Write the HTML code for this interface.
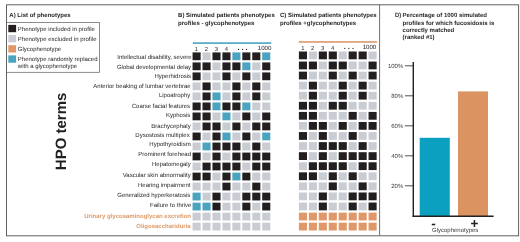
<!DOCTYPE html>
<html><head><meta charset="utf-8"><title>Figure</title>
<style>
html,body{margin:0;padding:0;background:#fff;}
body{width:520px;height:242px;overflow:hidden;}
svg{display:block;filter:blur(0.35px);text-rendering:geometricPrecision;font-family:"Liberation Sans",sans-serif;}
text{fill:#231f20;font-size:6px;}
.b{font-weight:bold;}
.n{font-size:5.8px;}
.tk{font-size:6px;fill:#3a3a3a;}
.dots{font-size:4.6px;letter-spacing:2.46px;}
.lab{font-size:6px;}
.o{font-weight:bold;fill:#e09b68;}
.hpo{font-size:15px;font-weight:bold;}
.pm{font-size:13.5px;font-weight:bold;}
</style></head><body>
<svg width="520" height="242" viewBox="0 0 520 242">
<rect x="0" y="0" width="520" height="242" fill="#fff"/>
<rect x="6.5" y="4.8" width="512.1" height="231.0" fill="none" stroke="#5a5a5a" stroke-width="0.95"/>
<line x1="379.6" x2="379.6" y1="4.6" y2="235.6" stroke="#555" stroke-width="0.85"/>
<!-- legend -->
<rect x="6.5" y="22.4" width="92.9" height="49.9" fill="none" stroke="#666" stroke-width="0.75"/>
<text x="9.3" y="17.3" class="b">A) List of phenotypes</text>
<rect x="8.3" y="24.9" width="7.8" height="7.3" fill="#231f20"/>
<rect x="8.3" y="35.0" width="7.8" height="7.3" fill="#c9cdd3"/>
<rect x="8.3" y="45.2" width="7.8" height="7.3" fill="#e0986a"/>
<rect x="8.3" y="55.4" width="7.8" height="7.3" fill="#4aa3bf"/>
<text x="17.8" y="30.6">Phenotype included in profile</text>
<text x="17.8" y="40.6">Phenotype excluded in profile</text>
<text x="17.8" y="50.7">Glycophenotype</text>
<text x="17.8" y="60.9">Phenotype randomly replaced</text>
<text x="17.8" y="68.2">with a glycophenotype</text>
<text transform="translate(66.3 170.2) rotate(-90)" class="hpo">HPO terms</text>
<!-- B -->
<text x="178.1" y="17.3" class="b">B) Simulated patients phenotypes</text>
<text x="178.1" y="24.6" class="b">profiles - glycophenotypes</text>
<rect x="192.8" y="42.3" width="78.5" height="1.6" fill="#4aa3bf"/>
<text x="196.40" y="50.90" text-anchor="middle" class="n">1</text>
<text x="206.35" y="50.90" text-anchor="middle" class="n">2</text>
<text x="216.30" y="50.90" text-anchor="middle" class="n">3</text>
<text x="226.25" y="50.90" text-anchor="middle" class="n">4</text>
<text x="271.40" y="49.80" text-anchor="end" class="n" style="font-size:6.1px">1000</text>
<text x="237.70" y="50.90" class="dots">•••</text>
<rect x="192.55" y="52.40" width="8.1" height="7.8" fill="#231f20"/>
<rect x="202.50" y="52.40" width="8.1" height="7.8" fill="#c9cdd3"/>
<rect x="212.45" y="52.40" width="8.1" height="7.8" fill="#231f20"/>
<rect x="222.40" y="52.40" width="8.1" height="7.8" fill="#231f20"/>
<rect x="232.35" y="52.40" width="8.1" height="7.8" fill="#4aa3bf"/>
<rect x="242.30" y="52.40" width="8.1" height="7.8" fill="#231f20"/>
<rect x="252.25" y="52.40" width="8.1" height="7.8" fill="#231f20"/>
<rect x="262.20" y="52.40" width="8.1" height="7.8" fill="#4aa3bf"/>
<rect x="192.55" y="62.42" width="8.1" height="7.8" fill="#231f20"/>
<rect x="202.50" y="62.42" width="8.1" height="7.8" fill="#231f20"/>
<rect x="212.45" y="62.42" width="8.1" height="7.8" fill="#c9cdd3"/>
<rect x="222.40" y="62.42" width="8.1" height="7.8" fill="#231f20"/>
<rect x="232.35" y="62.42" width="8.1" height="7.8" fill="#231f20"/>
<rect x="242.30" y="62.42" width="8.1" height="7.8" fill="#4aa3bf"/>
<rect x="252.25" y="62.42" width="8.1" height="7.8" fill="#c9cdd3"/>
<rect x="262.20" y="62.42" width="8.1" height="7.8" fill="#231f20"/>
<rect x="192.55" y="72.44" width="8.1" height="7.8" fill="#231f20"/>
<rect x="202.50" y="72.44" width="8.1" height="7.8" fill="#c9cdd3"/>
<rect x="212.45" y="72.44" width="8.1" height="7.8" fill="#c9cdd3"/>
<rect x="222.40" y="72.44" width="8.1" height="7.8" fill="#231f20"/>
<rect x="232.35" y="72.44" width="8.1" height="7.8" fill="#c9cdd3"/>
<rect x="242.30" y="72.44" width="8.1" height="7.8" fill="#231f20"/>
<rect x="252.25" y="72.44" width="8.1" height="7.8" fill="#c9cdd3"/>
<rect x="262.20" y="72.44" width="8.1" height="7.8" fill="#231f20"/>
<rect x="192.55" y="82.45" width="8.1" height="7.8" fill="#c9cdd3"/>
<rect x="202.50" y="82.45" width="8.1" height="7.8" fill="#231f20"/>
<rect x="212.45" y="82.45" width="8.1" height="7.8" fill="#c9cdd3"/>
<rect x="222.40" y="82.45" width="8.1" height="7.8" fill="#c9cdd3"/>
<rect x="232.35" y="82.45" width="8.1" height="7.8" fill="#231f20"/>
<rect x="242.30" y="82.45" width="8.1" height="7.8" fill="#c9cdd3"/>
<rect x="252.25" y="82.45" width="8.1" height="7.8" fill="#231f20"/>
<rect x="262.20" y="82.45" width="8.1" height="7.8" fill="#c9cdd3"/>
<rect x="192.55" y="92.47" width="8.1" height="7.8" fill="#c9cdd3"/>
<rect x="202.50" y="92.47" width="8.1" height="7.8" fill="#231f20"/>
<rect x="212.45" y="92.47" width="8.1" height="7.8" fill="#4aa3bf"/>
<rect x="222.40" y="92.47" width="8.1" height="7.8" fill="#c9cdd3"/>
<rect x="232.35" y="92.47" width="8.1" height="7.8" fill="#231f20"/>
<rect x="242.30" y="92.47" width="8.1" height="7.8" fill="#c9cdd3"/>
<rect x="252.25" y="92.47" width="8.1" height="7.8" fill="#231f20"/>
<rect x="262.20" y="92.47" width="8.1" height="7.8" fill="#c9cdd3"/>
<rect x="192.55" y="102.49" width="8.1" height="7.8" fill="#231f20"/>
<rect x="202.50" y="102.49" width="8.1" height="7.8" fill="#231f20"/>
<rect x="212.45" y="102.49" width="8.1" height="7.8" fill="#4aa3bf"/>
<rect x="222.40" y="102.49" width="8.1" height="7.8" fill="#231f20"/>
<rect x="232.35" y="102.49" width="8.1" height="7.8" fill="#231f20"/>
<rect x="242.30" y="102.49" width="8.1" height="7.8" fill="#4aa3bf"/>
<rect x="252.25" y="102.49" width="8.1" height="7.8" fill="#c9cdd3"/>
<rect x="262.20" y="102.49" width="8.1" height="7.8" fill="#c9cdd3"/>
<rect x="192.55" y="112.51" width="8.1" height="7.8" fill="#231f20"/>
<rect x="202.50" y="112.51" width="8.1" height="7.8" fill="#231f20"/>
<rect x="212.45" y="112.51" width="8.1" height="7.8" fill="#c9cdd3"/>
<rect x="222.40" y="112.51" width="8.1" height="7.8" fill="#4aa3bf"/>
<rect x="232.35" y="112.51" width="8.1" height="7.8" fill="#c9cdd3"/>
<rect x="242.30" y="112.51" width="8.1" height="7.8" fill="#231f20"/>
<rect x="252.25" y="112.51" width="8.1" height="7.8" fill="#c9cdd3"/>
<rect x="262.20" y="112.51" width="8.1" height="7.8" fill="#231f20"/>
<rect x="192.55" y="122.53" width="8.1" height="7.8" fill="#c9cdd3"/>
<rect x="202.50" y="122.53" width="8.1" height="7.8" fill="#231f20"/>
<rect x="212.45" y="122.53" width="8.1" height="7.8" fill="#231f20"/>
<rect x="222.40" y="122.53" width="8.1" height="7.8" fill="#c9cdd3"/>
<rect x="232.35" y="122.53" width="8.1" height="7.8" fill="#231f20"/>
<rect x="242.30" y="122.53" width="8.1" height="7.8" fill="#c9cdd3"/>
<rect x="252.25" y="122.53" width="8.1" height="7.8" fill="#231f20"/>
<rect x="262.20" y="122.53" width="8.1" height="7.8" fill="#231f20"/>
<rect x="192.55" y="132.54" width="8.1" height="7.8" fill="#231f20"/>
<rect x="202.50" y="132.54" width="8.1" height="7.8" fill="#c9cdd3"/>
<rect x="212.45" y="132.54" width="8.1" height="7.8" fill="#231f20"/>
<rect x="222.40" y="132.54" width="8.1" height="7.8" fill="#4aa3bf"/>
<rect x="232.35" y="132.54" width="8.1" height="7.8" fill="#c9cdd3"/>
<rect x="242.30" y="132.54" width="8.1" height="7.8" fill="#231f20"/>
<rect x="252.25" y="132.54" width="8.1" height="7.8" fill="#c9cdd3"/>
<rect x="262.20" y="132.54" width="8.1" height="7.8" fill="#4aa3bf"/>
<rect x="192.55" y="142.56" width="8.1" height="7.8" fill="#c9cdd3"/>
<rect x="202.50" y="142.56" width="8.1" height="7.8" fill="#4aa3bf"/>
<rect x="212.45" y="142.56" width="8.1" height="7.8" fill="#231f20"/>
<rect x="222.40" y="142.56" width="8.1" height="7.8" fill="#231f20"/>
<rect x="232.35" y="142.56" width="8.1" height="7.8" fill="#231f20"/>
<rect x="242.30" y="142.56" width="8.1" height="7.8" fill="#c9cdd3"/>
<rect x="252.25" y="142.56" width="8.1" height="7.8" fill="#231f20"/>
<rect x="262.20" y="142.56" width="8.1" height="7.8" fill="#c9cdd3"/>
<rect x="192.55" y="152.58" width="8.1" height="7.8" fill="#231f20"/>
<rect x="202.50" y="152.58" width="8.1" height="7.8" fill="#c9cdd3"/>
<rect x="212.45" y="152.58" width="8.1" height="7.8" fill="#231f20"/>
<rect x="222.40" y="152.58" width="8.1" height="7.8" fill="#c9cdd3"/>
<rect x="232.35" y="152.58" width="8.1" height="7.8" fill="#231f20"/>
<rect x="242.30" y="152.58" width="8.1" height="7.8" fill="#231f20"/>
<rect x="252.25" y="152.58" width="8.1" height="7.8" fill="#231f20"/>
<rect x="262.20" y="152.58" width="8.1" height="7.8" fill="#231f20"/>
<rect x="192.55" y="162.60" width="8.1" height="7.8" fill="#c9cdd3"/>
<rect x="202.50" y="162.60" width="8.1" height="7.8" fill="#231f20"/>
<rect x="212.45" y="162.60" width="8.1" height="7.8" fill="#231f20"/>
<rect x="222.40" y="162.60" width="8.1" height="7.8" fill="#231f20"/>
<rect x="232.35" y="162.60" width="8.1" height="7.8" fill="#231f20"/>
<rect x="242.30" y="162.60" width="8.1" height="7.8" fill="#c9cdd3"/>
<rect x="252.25" y="162.60" width="8.1" height="7.8" fill="#231f20"/>
<rect x="262.20" y="162.60" width="8.1" height="7.8" fill="#231f20"/>
<rect x="192.55" y="172.62" width="8.1" height="7.8" fill="#231f20"/>
<rect x="202.50" y="172.62" width="8.1" height="7.8" fill="#231f20"/>
<rect x="212.45" y="172.62" width="8.1" height="7.8" fill="#c9cdd3"/>
<rect x="222.40" y="172.62" width="8.1" height="7.8" fill="#231f20"/>
<rect x="232.35" y="172.62" width="8.1" height="7.8" fill="#4aa3bf"/>
<rect x="242.30" y="172.62" width="8.1" height="7.8" fill="#231f20"/>
<rect x="252.25" y="172.62" width="8.1" height="7.8" fill="#c9cdd3"/>
<rect x="262.20" y="172.62" width="8.1" height="7.8" fill="#c9cdd3"/>
<rect x="192.55" y="182.63" width="8.1" height="7.8" fill="#c9cdd3"/>
<rect x="202.50" y="182.63" width="8.1" height="7.8" fill="#c9cdd3"/>
<rect x="212.45" y="182.63" width="8.1" height="7.8" fill="#c9cdd3"/>
<rect x="222.40" y="182.63" width="8.1" height="7.8" fill="#231f20"/>
<rect x="232.35" y="182.63" width="8.1" height="7.8" fill="#c9cdd3"/>
<rect x="242.30" y="182.63" width="8.1" height="7.8" fill="#c9cdd3"/>
<rect x="252.25" y="182.63" width="8.1" height="7.8" fill="#231f20"/>
<rect x="262.20" y="182.63" width="8.1" height="7.8" fill="#c9cdd3"/>
<rect x="192.55" y="192.65" width="8.1" height="7.8" fill="#4aa3bf"/>
<rect x="202.50" y="192.65" width="8.1" height="7.8" fill="#c9cdd3"/>
<rect x="212.45" y="192.65" width="8.1" height="7.8" fill="#231f20"/>
<rect x="222.40" y="192.65" width="8.1" height="7.8" fill="#c9cdd3"/>
<rect x="232.35" y="192.65" width="8.1" height="7.8" fill="#c9cdd3"/>
<rect x="242.30" y="192.65" width="8.1" height="7.8" fill="#231f20"/>
<rect x="252.25" y="192.65" width="8.1" height="7.8" fill="#231f20"/>
<rect x="262.20" y="192.65" width="8.1" height="7.8" fill="#231f20"/>
<rect x="192.55" y="202.67" width="8.1" height="7.8" fill="#4aa3bf"/>
<rect x="202.50" y="202.67" width="8.1" height="7.8" fill="#4aa3bf"/>
<rect x="212.45" y="202.67" width="8.1" height="7.8" fill="#231f20"/>
<rect x="222.40" y="202.67" width="8.1" height="7.8" fill="#c9cdd3"/>
<rect x="232.35" y="202.67" width="8.1" height="7.8" fill="#c9cdd3"/>
<rect x="242.30" y="202.67" width="8.1" height="7.8" fill="#231f20"/>
<rect x="252.25" y="202.67" width="8.1" height="7.8" fill="#c9cdd3"/>
<rect x="262.20" y="202.67" width="8.1" height="7.8" fill="#231f20"/>
<rect x="192.55" y="212.69" width="8.1" height="7.8" fill="#c9cdd3"/>
<rect x="202.50" y="212.69" width="8.1" height="7.8" fill="#c9cdd3"/>
<rect x="212.45" y="212.69" width="8.1" height="7.8" fill="#c9cdd3"/>
<rect x="222.40" y="212.69" width="8.1" height="7.8" fill="#c9cdd3"/>
<rect x="232.35" y="212.69" width="8.1" height="7.8" fill="#c9cdd3"/>
<rect x="242.30" y="212.69" width="8.1" height="7.8" fill="#c9cdd3"/>
<rect x="252.25" y="212.69" width="8.1" height="7.8" fill="#c9cdd3"/>
<rect x="262.20" y="212.69" width="8.1" height="7.8" fill="#c9cdd3"/>
<rect x="192.55" y="222.71" width="8.1" height="7.8" fill="#c9cdd3"/>
<rect x="202.50" y="222.71" width="8.1" height="7.8" fill="#c9cdd3"/>
<rect x="212.45" y="222.71" width="8.1" height="7.8" fill="#c9cdd3"/>
<rect x="222.40" y="222.71" width="8.1" height="7.8" fill="#c9cdd3"/>
<rect x="232.35" y="222.71" width="8.1" height="7.8" fill="#c9cdd3"/>
<rect x="242.30" y="222.71" width="8.1" height="7.8" fill="#c9cdd3"/>
<rect x="252.25" y="222.71" width="8.1" height="7.8" fill="#c9cdd3"/>
<rect x="262.20" y="222.71" width="8.1" height="7.8" fill="#c9cdd3"/>
<text x="191.6" y="58.80" text-anchor="end" class="lab">Intellectual disability, severe</text>
<text x="191.0" y="69.10" text-anchor="end" class="lab">Global developmental delay</text>
<text x="191.1" y="78.00" text-anchor="end" class="lab">Hyperhidrosis</text>
<text x="190.7" y="87.60" text-anchor="end" class="lab">Anterior beaking of lumbar vertebrae</text>
<text x="190.3" y="97.00" text-anchor="end" class="lab">Lipoatrophy</text>
<text x="190.1" y="108.00" text-anchor="end" class="lab">Coarse facial features</text>
<text x="190.3" y="117.30" text-anchor="end" class="lab">Kyphosis</text>
<text x="190.7" y="127.70" text-anchor="end" class="lab">Brachycephaly</text>
<text x="189.7" y="136.80" text-anchor="end" class="lab">Dysostosis multiplex</text>
<text x="190.7" y="146.30" text-anchor="end" class="lab">Hypothyroidism</text>
<text x="191.0" y="156.30" text-anchor="end" class="lab">Prominent forehead</text>
<text x="190.7" y="166.40" text-anchor="end" class="lab">Hepatomegaly</text>
<text x="190.7" y="177.40" text-anchor="end" class="lab">Vascular skin abnormality</text>
<text x="190.4" y="186.70" text-anchor="end" class="lab">Hearing impairment</text>
<text x="190.3" y="197.00" text-anchor="end" class="lab">Generalized hyperkeratosis</text>
<text x="191.4" y="207.00" text-anchor="end" class="lab">Failure to thrive</text>
<text x="191.0" y="218.30" text-anchor="end" class="lab o">Urinary glycosaminoglycan excretion</text>
<text x="190.7" y="228.30" text-anchor="end" class="lab o">Oligosacchariduria</text>
<!-- C -->
<text x="280.0" y="17.3" class="b">C) Simulated patients phenotypes</text>
<text x="280.0" y="24.6" class="b">profiles +glycophenotypes</text>
<rect x="298.7" y="41.15" width="78.3" height="1.6" fill="#d99a6c"/>
<text x="302.75" y="49.80" text-anchor="middle" class="n">1</text>
<text x="312.70" y="49.80" text-anchor="middle" class="n">2</text>
<text x="322.65" y="49.80" text-anchor="middle" class="n">3</text>
<text x="332.60" y="49.80" text-anchor="middle" class="n">4</text>
<text x="376.25" y="48.70" text-anchor="end" class="n" style="font-size:6.1px">1000</text>
<text x="344.05" y="49.80" class="dots">•••</text>
<rect x="298.90" y="51.50" width="8.1" height="7.8" fill="#231f20"/>
<rect x="308.85" y="51.50" width="8.1" height="7.8" fill="#c9cdd3"/>
<rect x="318.80" y="51.50" width="8.1" height="7.8" fill="#231f20"/>
<rect x="328.75" y="51.50" width="8.1" height="7.8" fill="#231f20"/>
<rect x="338.70" y="51.50" width="8.1" height="7.8" fill="#c9cdd3"/>
<rect x="348.65" y="51.50" width="8.1" height="7.8" fill="#231f20"/>
<rect x="358.60" y="51.50" width="8.1" height="7.8" fill="#231f20"/>
<rect x="368.55" y="51.50" width="8.1" height="7.8" fill="#c9cdd3"/>
<rect x="298.90" y="61.57" width="8.1" height="7.8" fill="#231f20"/>
<rect x="308.85" y="61.57" width="8.1" height="7.8" fill="#231f20"/>
<rect x="318.80" y="61.57" width="8.1" height="7.8" fill="#c9cdd3"/>
<rect x="328.75" y="61.57" width="8.1" height="7.8" fill="#231f20"/>
<rect x="338.70" y="61.57" width="8.1" height="7.8" fill="#231f20"/>
<rect x="348.65" y="61.57" width="8.1" height="7.8" fill="#c9cdd3"/>
<rect x="358.60" y="61.57" width="8.1" height="7.8" fill="#c9cdd3"/>
<rect x="368.55" y="61.57" width="8.1" height="7.8" fill="#231f20"/>
<rect x="298.90" y="71.64" width="8.1" height="7.8" fill="#231f20"/>
<rect x="308.85" y="71.64" width="8.1" height="7.8" fill="#c9cdd3"/>
<rect x="318.80" y="71.64" width="8.1" height="7.8" fill="#c9cdd3"/>
<rect x="328.75" y="71.64" width="8.1" height="7.8" fill="#231f20"/>
<rect x="338.70" y="71.64" width="8.1" height="7.8" fill="#c9cdd3"/>
<rect x="348.65" y="71.64" width="8.1" height="7.8" fill="#231f20"/>
<rect x="358.60" y="71.64" width="8.1" height="7.8" fill="#c9cdd3"/>
<rect x="368.55" y="71.64" width="8.1" height="7.8" fill="#231f20"/>
<rect x="298.90" y="81.71" width="8.1" height="7.8" fill="#c9cdd3"/>
<rect x="308.85" y="81.71" width="8.1" height="7.8" fill="#231f20"/>
<rect x="318.80" y="81.71" width="8.1" height="7.8" fill="#c9cdd3"/>
<rect x="328.75" y="81.71" width="8.1" height="7.8" fill="#c9cdd3"/>
<rect x="338.70" y="81.71" width="8.1" height="7.8" fill="#231f20"/>
<rect x="348.65" y="81.71" width="8.1" height="7.8" fill="#c9cdd3"/>
<rect x="358.60" y="81.71" width="8.1" height="7.8" fill="#231f20"/>
<rect x="368.55" y="81.71" width="8.1" height="7.8" fill="#c9cdd3"/>
<rect x="298.90" y="91.78" width="8.1" height="7.8" fill="#c9cdd3"/>
<rect x="308.85" y="91.78" width="8.1" height="7.8" fill="#231f20"/>
<rect x="318.80" y="91.78" width="8.1" height="7.8" fill="#c9cdd3"/>
<rect x="328.75" y="91.78" width="8.1" height="7.8" fill="#c9cdd3"/>
<rect x="338.70" y="91.78" width="8.1" height="7.8" fill="#231f20"/>
<rect x="348.65" y="91.78" width="8.1" height="7.8" fill="#c9cdd3"/>
<rect x="358.60" y="91.78" width="8.1" height="7.8" fill="#231f20"/>
<rect x="368.55" y="91.78" width="8.1" height="7.8" fill="#c9cdd3"/>
<rect x="298.90" y="101.85" width="8.1" height="7.8" fill="#231f20"/>
<rect x="308.85" y="101.85" width="8.1" height="7.8" fill="#231f20"/>
<rect x="318.80" y="101.85" width="8.1" height="7.8" fill="#c9cdd3"/>
<rect x="328.75" y="101.85" width="8.1" height="7.8" fill="#231f20"/>
<rect x="338.70" y="101.85" width="8.1" height="7.8" fill="#231f20"/>
<rect x="348.65" y="101.85" width="8.1" height="7.8" fill="#c9cdd3"/>
<rect x="358.60" y="101.85" width="8.1" height="7.8" fill="#c9cdd3"/>
<rect x="368.55" y="101.85" width="8.1" height="7.8" fill="#c9cdd3"/>
<rect x="298.90" y="111.92" width="8.1" height="7.8" fill="#231f20"/>
<rect x="308.85" y="111.92" width="8.1" height="7.8" fill="#231f20"/>
<rect x="318.80" y="111.92" width="8.1" height="7.8" fill="#c9cdd3"/>
<rect x="328.75" y="111.92" width="8.1" height="7.8" fill="#c9cdd3"/>
<rect x="338.70" y="111.92" width="8.1" height="7.8" fill="#c9cdd3"/>
<rect x="348.65" y="111.92" width="8.1" height="7.8" fill="#231f20"/>
<rect x="358.60" y="111.92" width="8.1" height="7.8" fill="#c9cdd3"/>
<rect x="368.55" y="111.92" width="8.1" height="7.8" fill="#231f20"/>
<rect x="298.90" y="121.99" width="8.1" height="7.8" fill="#c9cdd3"/>
<rect x="308.85" y="121.99" width="8.1" height="7.8" fill="#231f20"/>
<rect x="318.80" y="121.99" width="8.1" height="7.8" fill="#231f20"/>
<rect x="328.75" y="121.99" width="8.1" height="7.8" fill="#c9cdd3"/>
<rect x="338.70" y="121.99" width="8.1" height="7.8" fill="#231f20"/>
<rect x="348.65" y="121.99" width="8.1" height="7.8" fill="#c9cdd3"/>
<rect x="358.60" y="121.99" width="8.1" height="7.8" fill="#231f20"/>
<rect x="368.55" y="121.99" width="8.1" height="7.8" fill="#231f20"/>
<rect x="298.90" y="132.06" width="8.1" height="7.8" fill="#231f20"/>
<rect x="308.85" y="132.06" width="8.1" height="7.8" fill="#c9cdd3"/>
<rect x="318.80" y="132.06" width="8.1" height="7.8" fill="#231f20"/>
<rect x="328.75" y="132.06" width="8.1" height="7.8" fill="#c9cdd3"/>
<rect x="338.70" y="132.06" width="8.1" height="7.8" fill="#c9cdd3"/>
<rect x="348.65" y="132.06" width="8.1" height="7.8" fill="#231f20"/>
<rect x="358.60" y="132.06" width="8.1" height="7.8" fill="#c9cdd3"/>
<rect x="368.55" y="132.06" width="8.1" height="7.8" fill="#c9cdd3"/>
<rect x="298.90" y="142.13" width="8.1" height="7.8" fill="#c9cdd3"/>
<rect x="308.85" y="142.13" width="8.1" height="7.8" fill="#c9cdd3"/>
<rect x="318.80" y="142.13" width="8.1" height="7.8" fill="#231f20"/>
<rect x="328.75" y="142.13" width="8.1" height="7.8" fill="#231f20"/>
<rect x="338.70" y="142.13" width="8.1" height="7.8" fill="#231f20"/>
<rect x="348.65" y="142.13" width="8.1" height="7.8" fill="#c9cdd3"/>
<rect x="358.60" y="142.13" width="8.1" height="7.8" fill="#231f20"/>
<rect x="368.55" y="142.13" width="8.1" height="7.8" fill="#c9cdd3"/>
<rect x="298.90" y="152.20" width="8.1" height="7.8" fill="#231f20"/>
<rect x="308.85" y="152.20" width="8.1" height="7.8" fill="#c9cdd3"/>
<rect x="318.80" y="152.20" width="8.1" height="7.8" fill="#231f20"/>
<rect x="328.75" y="152.20" width="8.1" height="7.8" fill="#c9cdd3"/>
<rect x="338.70" y="152.20" width="8.1" height="7.8" fill="#231f20"/>
<rect x="348.65" y="152.20" width="8.1" height="7.8" fill="#231f20"/>
<rect x="358.60" y="152.20" width="8.1" height="7.8" fill="#231f20"/>
<rect x="368.55" y="152.20" width="8.1" height="7.8" fill="#231f20"/>
<rect x="298.90" y="162.27" width="8.1" height="7.8" fill="#c9cdd3"/>
<rect x="308.85" y="162.27" width="8.1" height="7.8" fill="#231f20"/>
<rect x="318.80" y="162.27" width="8.1" height="7.8" fill="#231f20"/>
<rect x="328.75" y="162.27" width="8.1" height="7.8" fill="#231f20"/>
<rect x="338.70" y="162.27" width="8.1" height="7.8" fill="#231f20"/>
<rect x="348.65" y="162.27" width="8.1" height="7.8" fill="#c9cdd3"/>
<rect x="358.60" y="162.27" width="8.1" height="7.8" fill="#231f20"/>
<rect x="368.55" y="162.27" width="8.1" height="7.8" fill="#231f20"/>
<rect x="298.90" y="172.34" width="8.1" height="7.8" fill="#231f20"/>
<rect x="308.85" y="172.34" width="8.1" height="7.8" fill="#231f20"/>
<rect x="318.80" y="172.34" width="8.1" height="7.8" fill="#c9cdd3"/>
<rect x="328.75" y="172.34" width="8.1" height="7.8" fill="#231f20"/>
<rect x="338.70" y="172.34" width="8.1" height="7.8" fill="#c9cdd3"/>
<rect x="348.65" y="172.34" width="8.1" height="7.8" fill="#231f20"/>
<rect x="358.60" y="172.34" width="8.1" height="7.8" fill="#c9cdd3"/>
<rect x="368.55" y="172.34" width="8.1" height="7.8" fill="#c9cdd3"/>
<rect x="298.90" y="182.41" width="8.1" height="7.8" fill="#c9cdd3"/>
<rect x="308.85" y="182.41" width="8.1" height="7.8" fill="#c9cdd3"/>
<rect x="318.80" y="182.41" width="8.1" height="7.8" fill="#c9cdd3"/>
<rect x="328.75" y="182.41" width="8.1" height="7.8" fill="#231f20"/>
<rect x="338.70" y="182.41" width="8.1" height="7.8" fill="#c9cdd3"/>
<rect x="348.65" y="182.41" width="8.1" height="7.8" fill="#c9cdd3"/>
<rect x="358.60" y="182.41" width="8.1" height="7.8" fill="#231f20"/>
<rect x="368.55" y="182.41" width="8.1" height="7.8" fill="#c9cdd3"/>
<rect x="298.90" y="192.48" width="8.1" height="7.8" fill="#c9cdd3"/>
<rect x="308.85" y="192.48" width="8.1" height="7.8" fill="#c9cdd3"/>
<rect x="318.80" y="192.48" width="8.1" height="7.8" fill="#231f20"/>
<rect x="328.75" y="192.48" width="8.1" height="7.8" fill="#c9cdd3"/>
<rect x="338.70" y="192.48" width="8.1" height="7.8" fill="#c9cdd3"/>
<rect x="348.65" y="192.48" width="8.1" height="7.8" fill="#231f20"/>
<rect x="358.60" y="192.48" width="8.1" height="7.8" fill="#231f20"/>
<rect x="368.55" y="192.48" width="8.1" height="7.8" fill="#231f20"/>
<rect x="298.90" y="202.55" width="8.1" height="7.8" fill="#c9cdd3"/>
<rect x="308.85" y="202.55" width="8.1" height="7.8" fill="#c9cdd3"/>
<rect x="318.80" y="202.55" width="8.1" height="7.8" fill="#231f20"/>
<rect x="328.75" y="202.55" width="8.1" height="7.8" fill="#c9cdd3"/>
<rect x="338.70" y="202.55" width="8.1" height="7.8" fill="#c9cdd3"/>
<rect x="348.65" y="202.55" width="8.1" height="7.8" fill="#231f20"/>
<rect x="358.60" y="202.55" width="8.1" height="7.8" fill="#c9cdd3"/>
<rect x="368.55" y="202.55" width="8.1" height="7.8" fill="#231f20"/>
<rect x="298.90" y="212.62" width="8.1" height="7.8" fill="#e0986a"/>
<rect x="308.85" y="212.62" width="8.1" height="7.8" fill="#e0986a"/>
<rect x="318.80" y="212.62" width="8.1" height="7.8" fill="#e0986a"/>
<rect x="328.75" y="212.62" width="8.1" height="7.8" fill="#e0986a"/>
<rect x="338.70" y="212.62" width="8.1" height="7.8" fill="#e0986a"/>
<rect x="348.65" y="212.62" width="8.1" height="7.8" fill="#e0986a"/>
<rect x="358.60" y="212.62" width="8.1" height="7.8" fill="#e0986a"/>
<rect x="368.55" y="212.62" width="8.1" height="7.8" fill="#e0986a"/>
<rect x="298.90" y="222.69" width="8.1" height="7.8" fill="#e0986a"/>
<rect x="308.85" y="222.69" width="8.1" height="7.8" fill="#e0986a"/>
<rect x="318.80" y="222.69" width="8.1" height="7.8" fill="#e0986a"/>
<rect x="328.75" y="222.69" width="8.1" height="7.8" fill="#e0986a"/>
<rect x="338.70" y="222.69" width="8.1" height="7.8" fill="#e0986a"/>
<rect x="348.65" y="222.69" width="8.1" height="7.8" fill="#e0986a"/>
<rect x="358.60" y="222.69" width="8.1" height="7.8" fill="#e0986a"/>
<rect x="368.55" y="222.69" width="8.1" height="7.8" fill="#e0986a"/>
<!-- D -->
<text x="395" y="17.3" stroke="#231f20" stroke-width="0.22">D)</text>
<text x="402.6" y="17.3" class="b">Percentage of 1000 simulated</text>
<text x="402.6" y="24.6" class="b">profiles for which fucosidosis is</text>
<text x="402.6" y="31.9" class="b">correctly matched</text>
<text x="402.6" y="39.2" class="b">(ranked #1)</text>
<rect x="419.7" y="137.8" width="30.1" height="78.4" fill="#0ba0c0"/>
<rect x="458" y="91.4" width="30.0" height="124.8" fill="#dc9362"/>
<line x1="413.3" x2="413.3" y1="62" y2="217" stroke="#231f20" stroke-width="1.4"/>
<line x1="412.6" x2="493.6" y1="216.3" y2="216.3" stroke="#231f20" stroke-width="1.4"/>
<line x1="405.0" x2="413.3" y1="65.80" y2="65.80" stroke="#231f20" stroke-width="0.8"/>
<text x="403.3" y="67.85" text-anchor="end" class="tk">100%</text>
<line x1="405.0" x2="413.3" y1="95.80" y2="95.80" stroke="#231f20" stroke-width="0.8"/>
<text x="403.3" y="97.85" text-anchor="end" class="tk">80%</text>
<line x1="405.0" x2="413.3" y1="125.80" y2="125.80" stroke="#231f20" stroke-width="0.8"/>
<text x="403.3" y="127.85" text-anchor="end" class="tk">60%</text>
<line x1="405.0" x2="413.3" y1="155.80" y2="155.80" stroke="#231f20" stroke-width="0.8"/>
<text x="403.3" y="157.85" text-anchor="end" class="tk">40%</text>
<line x1="405.0" x2="413.3" y1="185.80" y2="185.80" stroke="#231f20" stroke-width="0.8"/>
<text x="403.3" y="187.85" text-anchor="end" class="tk">20%</text>
<text x="433.6" y="228.1" text-anchor="middle" class="pm">-</text>
<text x="474.45" y="227.8" text-anchor="middle" class="pm">+</text>
<text x="432" y="232.1" class="tk" style="font-size:6px">Glycophenotypes</text>
</svg>
</body></html>
